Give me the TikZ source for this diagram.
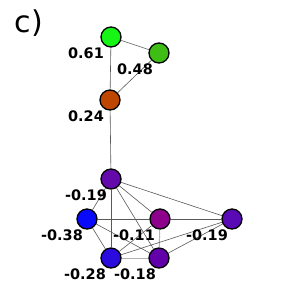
\documentclass[tikz,border=0pt]{standalone}
\usepackage{fontspec}
\setmainfont{DejaVu Sans}
\begin{document}
\begin{tikzpicture}[x=1pt,y=-1pt,
  vtx/.style={circle,draw=black,line width=1.3pt,minimum size=20pt,inner sep=0pt},
  edge/.style={draw=black!65,line width=0.6pt},
  ledge/.style={draw=black!30,line width=1pt},
  lab/.style={font=\bfseries\fontsize{14.5}{16}\selectfont,inner sep=0pt}]
\useasboundingbox (0,0) rectangle (307,301);
\definecolor{cA}{RGB}{22,245,22}
\definecolor{cB}{RGB}{62,190,20}
\definecolor{cC}{RGB}{190,70,0}
\definecolor{cD}{RGB}{100,10,170}
\definecolor{cE}{RGB}{10,10,250}
\definecolor{cF}{RGB}{140,0,140}
\definecolor{cG}{RGB}{90,10,180}
\definecolor{cH}{RGB}{42,10,220}
\definecolor{cI}{RGB}{98,0,170}
\node[font=\fontsize{30}{34}\selectfont,inner sep=0pt] (title) at (29,23) {c)};
\coordinate (pA) at (111,37);
\coordinate (pB) at (159,53);
\coordinate (pC) at (110,100);
\coordinate (pD) at (111,179);
\coordinate (pE) at (87,219);
\coordinate (pF) at (160,219);
\coordinate (pG) at (232,219);
\coordinate (pH) at (111,258);
\coordinate (pI) at (159,258);
\node[vtx,fill=cA] (A) at (pA) {};
\node[vtx,fill=cB] (B) at (pB) {};
\node[vtx,fill=cC] (C) at (pC) {};
\node[vtx,fill=cD] (D) at (pD) {};
\node[vtx,fill=cE] (E) at (pE) {};
\node[vtx,fill=cF] (F) at (pF) {};
\node[vtx,fill=cG] (G) at (pG) {};
\node[vtx,fill=cH] (H) at (pH) {};
\node[vtx,fill=cI] (I) at (pI) {};
\path[ledge] (F) -- (I);
\path[ledge] (H) -- (I);
\path[edge] (A) -- (B);
\path[edge] (A) -- (C);
\path[edge] (B) -- (C);
\path[edge] (C) -- (D);
\path[edge] (D) -- (E);
\path[edge] (D) -- (G);
\path[edge] (D) -- (F);
\path[edge] (D) -- (I);
\path[edge] (D) -- (H);
\path[edge] (E) -- (F);
\path[edge] (E) -- (I);
\path[edge] (E) -- (H);
\path[edge] (F) -- (G);
\path[edge] (F) -- (H);
\path[edge] (G) -- (H);
\path[edge] (G) -- (I);
\node[lab] (lA) at (86,53) {0.61};
\node[lab] (lB) at (135,69) {0.48};
\node[lab] (lC) at (86,116) {0.24};
\node[lab] (lD) at (86,195) {-0.19};
\node[lab] (lE) at (62,235) {-0.38};
\node[lab] (lF) at (134,235) {-0.11};
\node[lab] (lG) at (207,235) {-0.19};
\node[lab] (lH) at (85,274) {-0.28};
\node[lab] (lI) at (135,274) {-0.18};
\end{tikzpicture}
\end{document}
